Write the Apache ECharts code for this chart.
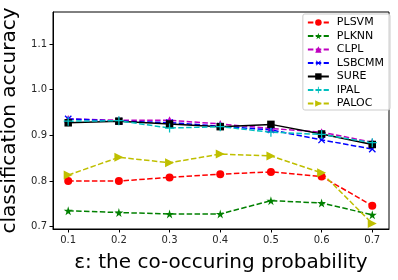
<!DOCTYPE html>
<html><head><meta charset="utf-8">
<script src="https://cdn.jsdelivr.net/npm/echarts@6/dist/echarts.min.js"></script>
<style>html,body{margin:0;padding:0;background:#fff}#c{width:398px;height:280px}</style>
</head><body><div id="c"></div>
<script>
const xValues = [0.1, 0.2, 0.3, 0.4, 0.5, 0.6, 0.7];
const xTicks = [0.1, 0.2, 0.3, 0.4, 0.5, 0.6, 0.7];
const yTicks = [0.7, 0.8, 0.9, 1.0, 1.1];
const seriesNames = ['PLSVM', 'PLKNN', 'CLPL', 'LSBCMM', 'SURE', 'IPAL', 'PALOC'];
const PLSVM  = [0.800, 0.800, 0.808, 0.815, 0.820, 0.810, 0.746];
const PLKNN  = [0.735, 0.731, 0.728, 0.728, 0.757, 0.752, 0.726];
const CLPL   = [0.936, 0.933, 0.933, 0.925, 0.915, 0.907, 0.885];
const LSBCMM = [0.936, 0.931, 0.928, 0.920, 0.912, 0.890, 0.870];
const SURE   = [0.9275, 0.931, 0.925, 0.919, 0.924, 0.903, 0.880];
const IPAL   = [0.931, 0.932, 0.916, 0.919, 0.907, 0.902, 0.884];
const PALOC  = [0.813, 0.852, 0.840, 0.859, 0.855, 0.818, 0.707];
const allData = [PLSVM, PLKNN, CLPL, LSBCMM, SURE, IPAL, PALOC];

const star = 'path://M50,0 L61,35 L98,35 L68,57 L79,91 L50,70 L21,91 L32,57 L2,35 L39,35 Z';
const plus = 'path://M43,0 H57 V43 H100 V57 H57 V100 H43 V57 H0 V43 H43 Z';
const styles = [
  {color:'#ff0000', symbol:'circle', size:8, rot:0, type:'dashed'},
  {color:'#008000', symbol:star, size:9, rot:0, type:'dashed'},
  {color:'#bf00bf', symbol:'triangle', size:8, rot:0, type:'dashed'},
  {color:'#0000ff', symbol:plus, size:9, rot:45, type:'dashed'},
  {color:'#000000', symbol:'rect', size:7.5, rot:0, type:'solid'},
  {color:'#00bfbf', symbol:plus, size:9, rot:0, type:'dashed'},
  {color:'#bfbf00', symbol:'triangle', size:9, rot:-90, type:'dashed'}
];

const series = seriesNames.map((n, i) => ({
  name: n, type: 'line',
  data: xValues.map((x, j) => [x, allData[i][j]]),
  symbol: styles[i].symbol, symbolSize: styles[i].size, symbolRotate: styles[i].rot,
  showAllSymbol: true,
  itemStyle: {color: styles[i].color, borderWidth: 0},
  lineStyle: {color: styles[i].color, width: 1.5, type: styles[i].type === 'dashed' ? [5.5, 2.4] : 'solid'},
  emphasis: {disabled: true}, animation: false
}));

const chart = echarts.init(document.getElementById('c'), null, {renderer: 'canvas'});
const font = 'DejaVu Sans';
chart.setOption({
  animation: false,
  backgroundColor: '#fff',
  grid: {left: 53, right: 9, top: 12, bottom: 51, show: true, borderColor: '#000', borderWidth: 1,
    containLabel: false, outerBoundsMode: 'none'},
  legend: {
    orient: 'vertical', right: 8, top: 14,
    itemWidth: 21, itemHeight: 8, itemGap: 2.5,
    padding: [3, 6, 1, 4],
    borderColor: '#cccccc', borderWidth: 1, borderRadius: 2,
    backgroundColor: 'rgba(255,255,255,0.8)',
    textStyle: {fontFamily: font, fontSize: 11, color: '#000', padding: [0,0,0,3]},
    data: seriesNames
  },
  xAxis: {
    type: 'value', min: 0.07, max: 0.733,
    name: 'ε: the co-occuring probability', nameLocation: 'middle', nameGap: 24,
    nameTextStyle: {fontFamily: font, fontSize: 20, color: '#000'},
    axisLine: {show: true, onZero: false, lineStyle: {color: '#000', width: 1}},
    axisTick: {show: true, length: 3.5, lineStyle: {color: '#000'}, customValues: xTicks},
    axisLabel: {fontFamily: font, fontSize: 10, color: '#262626', margin: 6, customValues: xTicks,
      formatter: v => v.toFixed(1)},
    splitLine: {show: false}
  },
  yAxis: {
    type: 'value', min: 0.695, max: 1.17,
    name: 'classification accuracy', nameLocation: 'middle', nameGap: 26,
    nameTextStyle: {fontFamily: font, fontSize: 20, color: '#000'},
    axisLine: {show: true, onZero: false, lineStyle: {color: '#000', width: 1}},
    axisTick: {show: true, length: 3.5, lineStyle: {color: '#000'}, customValues: yTicks},
    axisLabel: {fontFamily: font, fontSize: 10, color: '#262626', margin: 6, customValues: yTicks,
      formatter: v => v.toFixed(1)},
    splitLine: {show: false}
  },
  series: series
});
</script></body></html>
